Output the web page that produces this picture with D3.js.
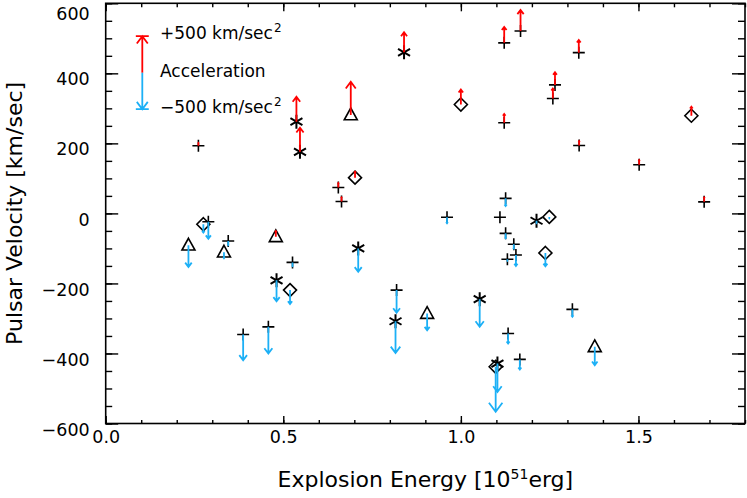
<!DOCTYPE html>
<html>
<head>
<meta charset="utf-8">
<script src="https://cdn.jsdelivr.net/npm/d3@7"></script>
<style>
  body { margin: 0; background: #fff; }
  text { font-family: "DejaVu Sans", sans-serif; fill: #000; }
</style>
</head>
<body>
<svg id="chart" width="747" height="498"></svg>
<script>
// explosion energy [1e51 erg], pulsar velocity [km/s], symbol, acceleration [km/s^2]
const energy = [0.261, 0.537, 0.547, 0.690, 0.840, 1.000, 1.122, 1.168, 1.122, 0.702,
  0.655, 0.664, 1.126, 1.332, 1.265, 1.259, 1.649, 1.333, 1.502, 1.685,
  0.233, 0.275, 0.289, 0.345, 0.333, 0.479, 0.526, 0.481, 0.519, 0.387,
  0.458, 0.961, 1.110, 1.126, 1.149, 1.131, 1.155, 0.711, 0.819, 0.816,
  0.905, 1.053, 1.133, 1.166, 1.103, 1.098, 1.213, 1.249, 1.238, 1.314, 1.377]
const velocity = [193, 262, 176, 281, 460, 311, 487, 521, 259, 102,
  74, 34, 43, 459, 367, 328, 279, 194, 139, 33,
  -91, -31, -24, -79, -111, -67, -140, -191, -219, -346,
  -324, -11, -11, -57, -88, -131, -119, -100, -219, -308,
  -286, -245, -343, -417, -429, -438, -21, -10, -113, -274, -381]
const symbol = ["plus", "star", "star", "tri", "star", "dia", "plus", "plus", "plus", "dia",
  "plus", "plus", "plus", "plus", "plus", "plus", "dia", "plus", "plus", "plus",
  "tri", "dia", "plus", "plus", "tri", "tri", "plus", "star", "dia", "plus",
  "plus", "plus", "plus", "plus", "plus", "plus", "plus", "star", "plus", "star",
  "tri", "star", "plus", "plus", "star", "dia", "star", "dia", "dia", "plus", "tri"]
const accel = [40, 342, 330, 455, 274, 205, 219, 288, 119, 82,
  60, 55, -105, 174, 174, 137, 123, 60, 64, 60,
  -297, -114, -233, -55, -82, 80, -50, -288, -192, -352,
  -365, -82, 0, -68, -60, -20, -150, -320, -310, -434,
  -228, -379, -137, -137, -388, -616, -30, -20, -182, -100, -251]

const xTicks = [0, 0.5, 1.0, 1.5]
const yTicks = [-600, -400, -200, 0, 200, 400, 600]
const legendAccel = 500

const red = "#ff0000"
const blue = "#1cb0f6"

const pLeft = 105.7, pRight = 745, pTop = 3.3, pBottom = 423.5

const x = d3.scaleLinear().domain([0, 1.8]).range([pLeft, pRight])
const y = d3.scaleLinear().domain([-600, 600]).range([pBottom, pTop])
// arrow length in pixels per km/s^2
const arrowLen = d3.scaleLinear().domain([0, 500]).range([0, 36.5])

const svg = d3.select("#chart")

const data = energy.map((e, i) => ({
  e, v: velocity[i], sym: symbol[i], a: accel[i]
}))

// symbols
const symPath = {
  plus: "M-6,0H6M0,-6V6",
  star: "M0,-7V7M-6,-3.5L6,3.5M-6,3.5L6,-3.5",
  dia: "M0,-6.5L6.5,0L0,6.5L-6.5,0Z",
  tri: "M0,-7L6.5,4.8L-6.5,4.8Z",
}

svg.append("g")
  .selectAll("path")
  .data(data)
  .join("path")
  .attr("transform", (d) => `translate(${x(d.e)},${y(d.v)})`)
  .attr("d", (d) => symPath[d.sym])
  .attr("fill", "none")
  .attr("stroke", "#000")
  .attr("stroke-width", (d) => (d.sym === "star" ? 2 : 1.6))

// arrows drawn on top of the symbols, like the original
function arrowPath(x0, y0, len, dir, bar) {
  // dir: -1 up, +1 down
  const y1 = y0 + dir * len
  const hl = 0.2 * len, hw = 0.15 * len
  let p = `M${x0},${y0}V${y1}M${x0 - hw},${y1 - dir * hl}L${x0},${y1}L${x0 + hw},${y1 - dir * hl}`
  if (bar) p += `M${x0 - hw - 1},${y1}H${x0 + hw + 1}`
  return p
}

svg.append("g")
  .selectAll("path")
  .data(data.filter((d) => d.a !== 0))
  .join("path")
  .attr("d", (d) => arrowPath(x(d.e), y(d.v), arrowLen(Math.abs(d.a)), d.a > 0 ? -1 : 1))
  .attr("fill", "none")
  .attr("stroke", (d) => (d.a > 0 ? red : blue))
  .attr("stroke-width", 1.8)

// axes, ticks pointing inwards on all four sides
function addAxis(axis, tx, ty) {
  return svg.append("g").attr("transform", `translate(${tx},${ty})`).call(axis)
}
const xMinor = d3.range(0, 1.81, 0.1)
const yMinor = d3.range(-600, 601, 50)

addAxis(d3.axisBottom(x).tickValues(xMinor).tickSize(-3.5).tickFormat(""), 0, pBottom)
addAxis(d3.axisTop(x).tickValues(xMinor).tickSize(-4).tickFormat(""), 0, pTop)
addAxis(d3.axisLeft(y).tickValues(yMinor).tickSize(-6.5).tickFormat(""), pLeft, 0)
addAxis(d3.axisRight(y).tickValues(yMinor).tickSize(-7).tickFormat(""), pRight, 0)
addAxis(d3.axisTop(x).tickValues(xTicks).tickSize(-8).tickFormat(""), 0, pTop)
addAxis(d3.axisRight(y).tickValues(yTicks).tickSize(-13).tickFormat(""), pRight, 0)

const gx = addAxis(
  d3.axisBottom(x).tickValues(xTicks).tickSize(-7.5).tickPadding(7).tickFormat(d3.format(".1f")),
  0, pBottom)
const gy = addAxis(
  d3.axisLeft(y).tickValues(yTicks).tickSize(-12.5).tickPadding(16)
    .tickFormat((d) => (d < 0 ? "\u2212" + Math.abs(d) : d)),
  pLeft, 0)

svg.selectAll(".domain").remove()
svg.selectAll(".tick line").attr("stroke", "#000").attr("stroke-width", 1.4)
gx.selectAll("text").attr("font-size", 17.5).attr("font-family", "DejaVu Sans")
gy.selectAll("text").attr("font-size", 17.5).attr("font-family", "DejaVu Sans")
  .attr("y", (d) => (d === 600 ? 10.5 : 6))

svg.append("rect")
  .attr("x", pLeft).attr("y", pTop)
  .attr("width", pRight - pLeft).attr("height", pBottom - pTop)
  .attr("fill", "none").attr("stroke", "#000").attr("stroke-width", 1.6)

// axis titles
const xt = svg.append("text")
  .attr("x", (pLeft + pRight) / 2).attr("y", 487)
  .attr("text-anchor", "middle").attr("font-size", 22)
xt.append("tspan").text("Explosion Energy [10")
xt.append("tspan").attr("font-size", 14).attr("dy", -8).text("51")
xt.append("tspan").attr("dy", 8).text("erg]")

svg.append("text")
  .attr("transform", `translate(22,${(pTop + pBottom) / 2}) rotate(-90)`)
  .attr("text-anchor", "middle").attr("font-size", 22)
  .text("Pulsar Velocity [km/sec]")

// legend
const lx = 142.3, ly = 72.7
const legLen = arrowLen(legendAccel)
const legend = svg.append("g")
legend.append("path")
  .attr("d", arrowPath(lx, ly, legLen, -1, true))
  .attr("fill", "none").attr("stroke", red).attr("stroke-width", 1.8)
legend.append("path")
  .attr("d", arrowPath(lx, ly, legLen, 1, true))
  .attr("fill", "none").attr("stroke", blue).attr("stroke-width", 1.8)

function legendLabel(txt, yy, sup) {
  const t = legend.append("text").attr("x", 160).attr("y", yy).attr("font-size", 17)
  t.append("tspan").text(txt)
  if (sup) t.append("tspan").attr("font-size", 12).attr("dy", -7).attr("dx", 1).text(sup)
}
legendLabel("+" + legendAccel + " km/sec", 39, "2")
legendLabel("Acceleration", 77)
legendLabel("\u2212" + legendAccel + " km/sec", 113, "2")
</script>
</body>
</html>
